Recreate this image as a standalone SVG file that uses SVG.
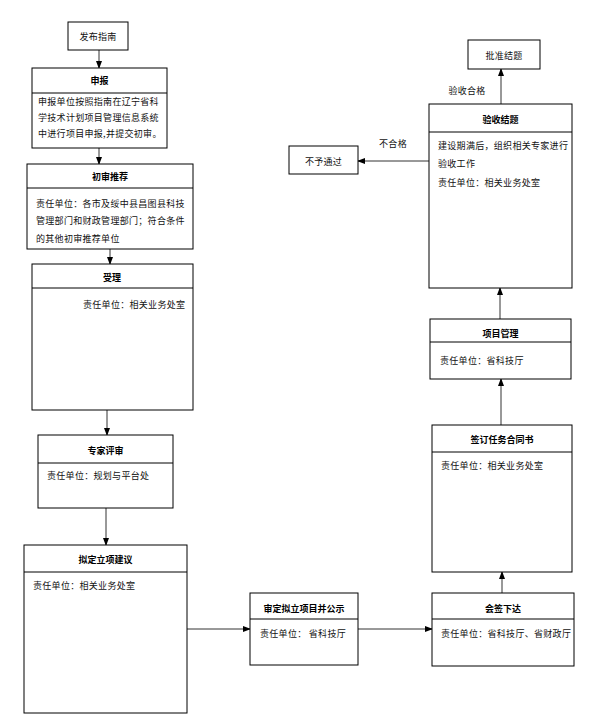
<svg xmlns="http://www.w3.org/2000/svg" width="599" height="727" viewBox="0 0 599 727">
<defs>
<style>
.box{fill:#fff;stroke:#000;stroke-width:1}
.div{stroke:#000;stroke-width:1}
.t{font-family:"Noto Sans CJK SC","Liberation Sans",sans-serif;font-size:9px;fill:#111;letter-spacing:0.3px;dominant-baseline:central}
.h{font-family:"Noto Sans CJK SC","Liberation Sans",sans-serif;font-size:9px;font-weight:bold;fill:#000;text-anchor:middle;dominant-baseline:central}
.c{text-anchor:middle}
.ln{stroke:#333;stroke-width:1;fill:none;marker-end:url(#ah)}
</style>
<marker id="ah" markerWidth="8" markerHeight="8" refX="7" refY="4" orient="auto" markerUnits="userSpaceOnUse">
<path d="M0,1 L8,4 L0,7 Z" fill="#000"/>
</marker>
</defs>
<rect width="599" height="727" fill="#fff"/>

<g id="connectors">
<line class="ln" x1="99" y1="50" x2="99" y2="68"/>
<line class="ln" x1="99" y1="148" x2="99" y2="164"/>
<line class="ln" x1="110" y1="249" x2="110" y2="264"/>
<line class="ln" x1="107" y1="410" x2="107" y2="435"/>
<line class="ln" x1="106" y1="508" x2="106" y2="545"/>
<line class="ln" x1="187" y1="629" x2="250" y2="629"/>
<line class="ln" x1="358" y1="629" x2="432" y2="629"/>
<line class="ln" x1="502" y1="593" x2="502" y2="572"/>
<line class="ln" x1="501" y1="425" x2="501" y2="379"/>
<line class="ln" x1="500" y1="319" x2="500" y2="288"/>
<line class="ln" x1="501" y1="104" x2="501" y2="69"/>
<line class="ln" x1="429" y1="161" x2="358" y2="161"/>
<text class="t c" x="467" y="90">验收合格</text>
<text class="t c" x="393" y="143">不合格</text>
</g>

<g id="fabu">
<rect class="box" x="68" y="22" width="60" height="28"/>
<text class="t c" x="98" y="36">发布指南</text>
</g>

<g id="shenbao">
<rect class="box" x="32" y="68" width="135" height="80"/>
<line class="div" x1="32" y1="93" x2="167" y2="93"/>
<text class="h" x="99.5" y="80">申报</text>
<text class="t" x="38" y="101">申报单位按照指南在辽宁省科</text>
<text class="t" x="38" y="117">学技术计划项目管理信息系统</text>
<text class="t" x="38" y="133">中进行项目申报,并提交初审。</text>
</g>

<g id="chushen">
<rect class="box" x="27" y="164" width="166" height="85"/>
<line class="div" x1="27" y1="188" x2="193" y2="188"/>
<text class="h" x="110" y="176">初审推荐</text>
<text class="t" x="36" y="203">责任单位：各市及绥中县昌图县科技</text>
<text class="t" x="36" y="220">管理部门和财政管理部门；符合条件</text>
<text class="t" x="36" y="238">的其他初审推荐单位</text>
</g>

<g id="shouli">
<rect class="box" x="32" y="264" width="161" height="146"/>
<line class="div" x1="32" y1="288" x2="193" y2="288"/>
<text class="h" x="112" y="277">受理</text>
<text class="t" x="83" y="304">责任单位：相关业务处室</text>
</g>

<g id="zhuanjia">
<rect class="box" x="38" y="435" width="135" height="73"/>
<line class="div" x1="38" y1="463" x2="173" y2="463"/>
<text class="h" x="105.5" y="450">专家评审</text>
<text class="t" x="47" y="475">责任单位：规划与平台处</text>
</g>

<g id="niding">
<rect class="box" x="24" y="545" width="163" height="168"/>
<line class="div" x1="24" y1="572" x2="187" y2="572"/>
<text class="h" x="105.5" y="559">拟定立项建议</text>
<text class="t" x="33" y="585">责任单位：相关业务处室</text>
</g>

<g id="shending">
<rect class="box" x="250" y="593" width="108" height="72"/>
<line class="div" x1="250" y1="619" x2="358" y2="619"/>
<text class="h" x="304" y="608">审定拟立项目并公示</text>
<text class="t" x="260" y="633">责任单位： 省科技厅</text>
</g>

<g id="huiqian">
<rect class="box" x="432" y="593" width="142" height="73"/>
<line class="div" x1="432" y1="619" x2="574" y2="619"/>
<text class="h" x="503" y="608">会签下达</text>
<text class="t" x="441" y="633">责任单位：省科技厅、省财政厅</text>
</g>

<g id="qianding">
<rect class="box" x="432" y="425" width="140" height="147"/>
<line class="div" x1="432" y1="452" x2="572" y2="452"/>
<text class="h" x="502" y="439">签订任务合同书</text>
<text class="t" x="441" y="465">责任单位：相关业务处室</text>
</g>

<g id="xiangmu">
<rect class="box" x="430" y="319" width="141" height="60"/>
<line class="div" x1="430" y1="342" x2="571" y2="342"/>
<text class="h" x="500.5" y="333">项目管理</text>
<text class="t" x="440" y="360">责任单位：省科技厅</text>
</g>

<g id="yanshou">
<rect class="box" x="429" y="104" width="143" height="184"/>
<line class="div" x1="429" y1="132" x2="572" y2="132"/>
<text class="h" x="500.5" y="119">验收结题</text>
<text class="t" x="438" y="145">建设期满后，组织相关专家进行</text>
<text class="t" x="438" y="163">验收工作</text>
<text class="t" x="438" y="182">责任单位：相关业务处室</text>
</g>

<g id="buyu">
<rect class="box" x="289" y="146" width="69" height="28"/>
<text class="t c" x="323.5" y="161">不予通过</text>
</g>

<g id="pizhun">
<rect class="box" x="468" y="40" width="72" height="29"/>
<text class="t c" x="504" y="55">批准结题</text>
</g>
</svg>
